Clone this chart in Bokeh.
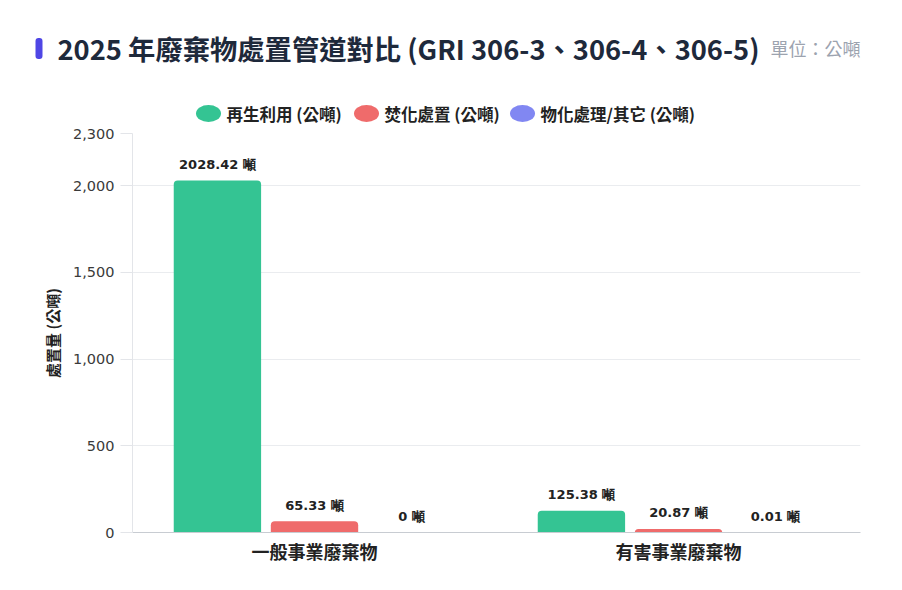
from bokeh.plotting import figure
from bokeh.models import ColumnDataSource, FactorRange, Range1d, FixedTicker, NumeralTickFormatter
from bokeh.models.glyphs import VBar, Rect
from bokeh.transform import dodge
from bokeh.core.properties import value
from bokeh.embed import file_html
from bokeh.resources import INLINE

# ---------------- data ----------------
categories = ["一般事業廢棄物", "有害事業廢棄物"]
series_names = ["再生利用 (公噸)", "焚化處置 (公噸)", "物化處理/其它 (公噸)"]
recycle = [2028.42, 125.38]
incinerate = [65.33, 20.87]
physchem = [0, 0.01]
y_ticks = [0, 500, 1000, 1500, 2000, 2300]
title_text = "2025 年廢棄物處置管道對比 (GRI 306-3、306-4、306-5)"
unit_text = "單位：公噸"
y_label = "處置量 (公噸)"
unit_suffix = " 噸"

# ---------------- style ----------------
colors = ["#34c493", "#ef6b6b", "#8187f2"]
CJK = "Noto Sans CJK TC"
NUM = "DejaVu Sans"
W, H = 894, 582
HEAD_H = 125
FL, FR, FT, FB = 132, 860, 133, 532   # frame edges in page pixels

has_radius = "border_radius" in VBar.properties()
rect_radius = "border_radius" in Rect.properties()


def fmt(v):
    s = f"{v:.2f}".rstrip("0").rstrip(".")
    return s + unit_suffix


# ---------------- header figure: title, unit, legend ----------------
head = figure(width=W, height=HEAD_H, x_range=Range1d(0, W), y_range=Range1d(HEAD_H, 0),
              x_axis_type=None, y_axis_type=None, toolbar_location=None,
              output_backend="svg", min_border=0, outline_line_color=None)
head.xgrid.visible = False
head.ygrid.visible = False

acc_kw = {"border_radius": 3} if rect_radius else {}
head.rect(x=[38.5], y=[48], width=[7], height=[21], fill_color="#4f46e5",
          line_color=None, **acc_kw)
head.text(x=[57], y=[47.5], text=[title_text], text_font=value(CJK), text_font_style="bold",
          text_font_size="27.3px", text_color="#1e293b", text_baseline="middle",
          text_align="left")
head.text(x=[860], y=[47.5], text=[unit_text], text_font=value(CJK), text_font_size="18px",
          text_color="#9ca3af", text_baseline="middle", text_align="right")

leg_cx = [208, 366, 522]
leg_cy = 113
head.ellipse(x=leg_cx, y=[leg_cy] * 3, width=25, height=17, fill_color=colors,
             line_color=None)
head.text(x=[c + 18 for c in leg_cx], y=[leg_cy] * 3, text=series_names,
          text_font=value(CJK), text_font_style="bold", text_font_size="16.5px",
          text_color="#222222", text_baseline="middle", text_align="left")

# ---------------- main chart ----------------
p = figure(width=W, height=H - HEAD_H, x_range=FactorRange(factors=categories),
           y_range=Range1d(0, 2300), toolbar_location=None, output_backend="svg",
           min_border_left=FL, min_border_right=W - FR, min_border_top=FT - HEAD_H,
           min_border_bottom=H - FB, outline_line_color=None)

series = [recycle, incinerate, physchem]
offsets = [-0.2667, 0.0, 0.2667]
bar_kw = {"border_radius": (4, 4, 0, 0)} if has_radius else {}
for vals, off, col in zip(series, offsets, colors):
    src = ColumnDataSource(dict(cat=categories, v=vals, lbl=[fmt(v) for v in vals]))
    p.vbar(x=dodge("cat", off, range=p.x_range), top="v", width=0.24, source=src,
           fill_color=col, line_color=None, **bar_kw)
    p.text(x=dodge("cat", off, range=p.x_range), y="v", text="lbl", source=src,
           text_align="center", text_baseline="middle", y_offset=-16,
           text_font=value(NUM), text_font_style="bold", text_font_size="13px",
           text_color="#222222")

p.xgrid.visible = False
p.ygrid.grid_line_color = "#eaecef"

ya = p.yaxis[0]
ya.ticker = FixedTicker(ticks=y_ticks)
ya.formatter = NumeralTickFormatter(format="0,0")
ya.axis_line_color = "#e3e5e9"
ya.major_tick_line_color = "#e3e5e9"
ya.major_tick_out = 12
ya.major_tick_in = 0
ya.minor_tick_line_color = None
ya.major_label_standoff = 6
ya.major_label_text_font = NUM
ya.major_label_text_font_size = "14.5px"
ya.major_label_text_color = "#3a3a3a"
ya.axis_label = y_label
ya.axis_label_text_font = CJK
ya.axis_label_text_font_style = "bold"
ya.axis_label_text_font_size = "15px"
ya.axis_label_text_color = "#222222"
ya.axis_label_standoff = 7

xa = p.xaxis[0]
xa.axis_line_color = "#c8ccd2"
xa.major_tick_line_color = None
xa.major_tick_out = 0
xa.minor_tick_line_color = None
xa.major_label_standoff = 5
xa.major_label_text_font = CJK
xa.major_label_text_font_style = "bold"
xa.major_label_text_font_size = "18px"
xa.major_label_text_color = "#222222"

open("out.html", "w").write(file_html([head, p], INLINE))
